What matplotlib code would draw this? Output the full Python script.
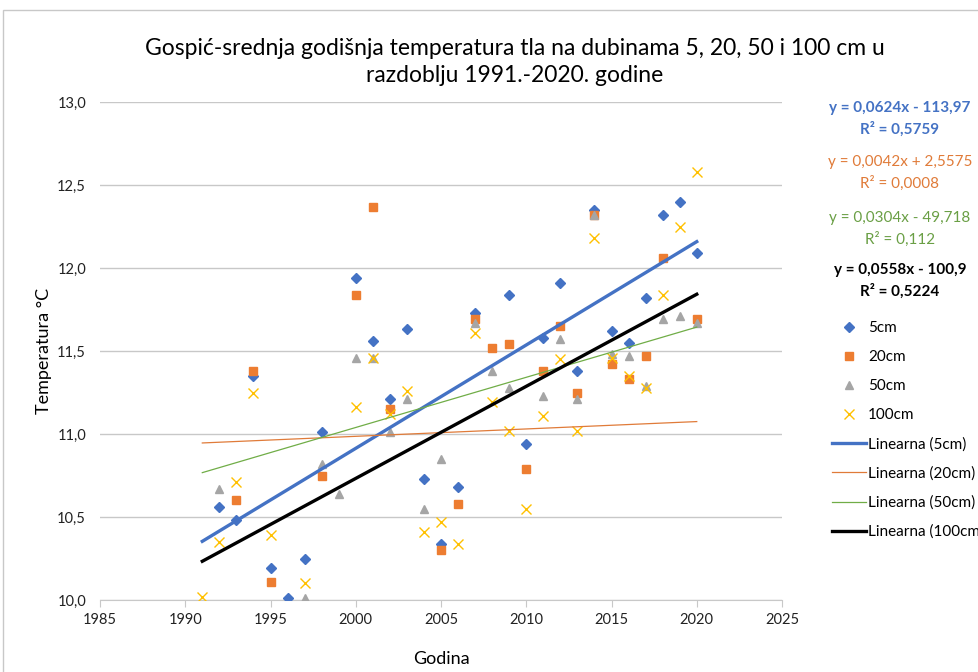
import matplotlib.pyplot as plt
import numpy as np
from matplotlib.patches import Rectangle

plt.rcParams['font.family'] = ['Lato', 'DejaVu Sans']

nan = np.nan
years = np.arange(1991, 2021)

# srednje godisnje temperature tla (vrijednosti ispod 10 / iznad 13 su izvan osi, procjena)
t5 = [9.95, 10.56, 10.48, 11.35, 10.19, 10.01, 10.25, 11.01, nan, 11.94,
      11.56, 11.21, 11.63, 10.73, 10.34, 10.68, 11.73, nan, 11.84, 10.94,
      11.58, 11.91, 11.38, 12.35, 11.62, 11.55, 11.82, 12.32, 12.40, 12.09]
t20 = [13.05, nan, 10.60, 11.38, 10.11, nan, nan, 10.75, nan, 11.84,
       12.37, 11.15, 7.8, 7.9, 10.30, 10.58, 11.69, 11.52, 11.54, 10.79,
       11.38, 11.65, 11.25, 12.32, 11.42, 11.33, 11.47, 12.06, 8.5, 11.69]
t50 = [13.05, 10.67, nan, nan, 9.3, nan, 10.01, 10.82, 10.64, 11.46,
       11.46, 11.01, 11.21, 10.55, 10.85, nan, 11.67, 11.38, 11.28, nan,
       11.23, 11.57, 11.21, 12.32, 11.48, 11.47, 11.29, 11.69, 11.71, 11.67]
t100 = [10.02, 10.35, 10.71, 11.25, 10.39, 9.9, 10.10, nan, nan, 11.16,
        11.46, 11.12, 11.26, 10.41, 10.47, 10.34, 11.61, 11.19, 11.02, 10.55,
        11.11, 11.45, 11.02, 12.18, 11.46, 11.35, 11.28, 11.84, 12.25, 12.58]

names = ['5cm', '20cm', '50cm', '100cm']
eq_text = ['y = 0,0624x - 113,97', 'y = 0,0042x + 2,5575',
           'y = 0,0304x - 49,718', 'y = 0,0558x - 100,9']
r2_text = ['R² = 0,5759', 'R² = 0,0008', 'R² = 0,112', 'R² = 0,5224']

fig = plt.figure(figsize=(9.79, 6.72), dpi=100)
fig.patches.append(Rectangle((3/979, -0.1), 1.2, 1.1 - 10/672, transform=fig.transFigure,
                             fill=False, edgecolor='#c8c8c8', lw=1))
ax = fig.add_axes([100/979, 1-600/672, 682/979, 498/672])

ax.plot(years, t5, 'D', color='#4472C4', ms=5, label='5cm', zorder=3)
ax.plot(years, t20, 's', color='#ED7D31', ms=5.5, label='20cm', zorder=3)
ax.plot(years, t50, '^', color='#A5A5A5', ms=6, label='50cm', zorder=3)
ax.plot(years, t100, 'x', color='#FFC000', ms=7, mew=1, label='100cm', zorder=3)

# linearni trend (kao u Excelu)
stil = [('#4472C4', 2.4), ('#E07B39', 0.9), ('#70AD47', 0.9), ('#000000', 2.4)]
for s, n, (c, w) in zip([t5, t20, t50, t100], names, stil):
    y = np.array(s)
    m = ~np.isnan(y)
    k, b = np.polyfit(years[m], y[m], 1)
    ax.plot(years[[0, -1]], k*years[[0, -1]] + b, color=c, lw=w,
            label='Linearna (%s)' % n, zorder=4)

ax.set_xlim(1985, 2025)
ax.set_ylim(10, 13)
ax.set_xticks(range(1985, 2026, 5))
yt = np.arange(10, 13.01, 0.5)
ax.set_yticks(yt)
ax.set_yticklabels([('%.1f' % v).replace('.', ',') for v in yt])
ax.grid(axis='y', color='#c8c8c8', lw=1)
ax.set_axisbelow(True)
for sp in ['top', 'right', 'left']:
    ax.spines[sp].set_visible(False)
ax.spines['bottom'].set_color('#c8c8c8')
ax.tick_params(axis='y', length=0, pad=10, labelsize=10.5, labelcolor='#222222')
ax.tick_params(axis='x', length=5, color='#c8c8c8', pad=4, labelsize=10.5,
               labelcolor='#222222')

ax.set_xlabel('Godina', fontsize=13, labelpad=18)
ax.set_ylabel('Temperatura °C', fontsize=13, labelpad=4)
fig.text(515/979, 1-62/672,
         'Gospić-srednja godišnja temperatura tla na dubinama 5, 20, 50 i 100 cm u\n'
         'razdoblju 1991.-2020. godine', ha='center', va='center', fontsize=16.5,
         linespacing=1.3)

eq_col = ['#4472C4', '#E07B39', '#6A9F45', '#000000']
eq_w = ['bold', 'normal', 'normal', 'bold']
eq_y = [108, 162, 218, 270]
for e, r, c, w, yy in zip(eq_text, r2_text, eq_col, eq_w, eq_y):
    fig.text(900/979, 1-yy/672, e, color=c, weight=w, fontsize=11, ha='center', va='center')
    fig.text(900/979, 1-(yy+21)/672, r, color=c, weight=w, fontsize=11, ha='center', va='center')

ax.legend(loc='upper left', bbox_to_anchor=(832/979, 1-321/672), bbox_transform=fig.transFigure,
          frameon=False, fontsize=11, handlelength=2.2, handletextpad=0.15,
          labelspacing=0.98, borderpad=0, borderaxespad=0)

fig.savefig('out.png')
